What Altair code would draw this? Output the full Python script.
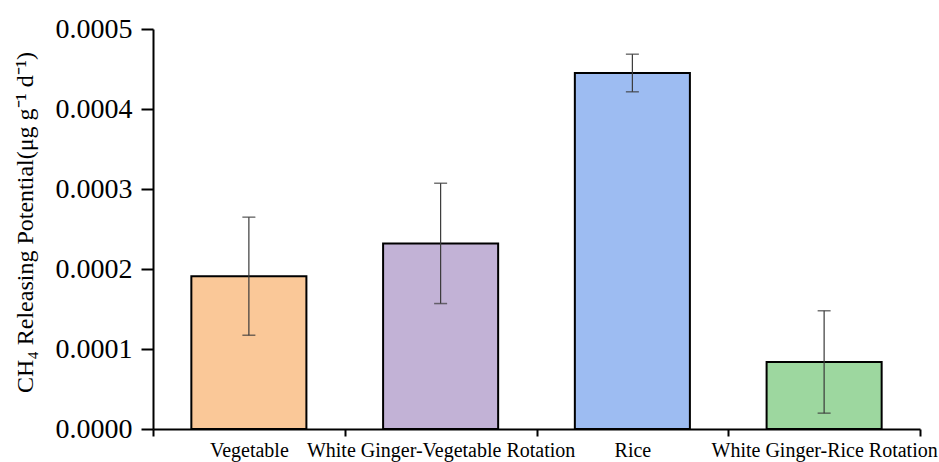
import altair as alt
import pandas as pd

# Treatments, mean CH4 releasing potential and standard deviation
categories = ["Vegetable", "White Ginger-Vegetable Rotation", "Rice", "White Ginger-Rice Rotation"]
means = [0.000191, 0.000232, 0.000445, 0.0000838]
errors = [0.0000738, 0.0000752, 0.0000235, 0.0000640]
colors = ["#FAC898", "#C2B2D6", "#9DBCF2", "#9DD79F"]

df = pd.DataFrame({"cat": categories, "mean": means, "err": errors, "color": colors})

FONT = "Liberation Serif"

x_enc = alt.X(
    "cat:N",
    sort=categories,
    scale=alt.Scale(paddingInner=0, paddingOuter=0),
    axis=alt.Axis(
        title=None,
        labelAngle=0,
        labelFont=FONT,
        labelFontSize=20,
        labelColor="black",
        labelPadding=4,
        labelLimit=0,
        labelOverlap=False,
        labelBound=False,
        tickBand="extent",
        tickSize=7,
        tickWidth=2,
        tickColor="black",
        domainColor="black",
        domainWidth=2,
    ),
)

y_enc = alt.Y(
    "mean:Q",
    scale=alt.Scale(domain=[0, 0.0005], nice=False, zero=True),
    axis=alt.Axis(
        title="CH₄ Releasing Potential(μg g⁻¹  d⁻¹)",
        values=[0, 0.0001, 0.0002, 0.0003, 0.0004, 0.0005],
        format=".4f",
        grid=False,
        labelFont=FONT,
        labelFontSize=28,
        labelColor="black",
        labelPadding=9,
        tickSize=12,
        tickWidth=2,
        tickColor="black",
        domainColor="black",
        domainWidth=2,
        titleFont=FONT,
        titleFontSize=24,
        titleFontWeight="normal",
        titleColor="black",
        titleAngle=-90,
        titleX=-128,
        titleY=193,
        titleAlign="center",
        titleBaseline="middle",
    ),
)

base = alt.Chart(df)

bars = base.mark_bar(
    width=alt.RelativeBandSize(0.6), stroke="black", strokeWidth=2
).encode(
    x=x_enc,
    y=y_enc,
    color=alt.Color("color:N", scale=None, legend=None),
)

ranged = base.transform_calculate(
    lo="datum.mean - datum.err", hi="datum.mean + datum.err"
)

whisker = ranged.mark_rule(color="#3a3a3a", strokeWidth=1.2).encode(
    x=alt.X("cat:N", sort=categories),
    y=alt.Y("lo:Q"),
    y2="hi:Q",
)

cap_lo = ranged.mark_tick(color="#3a3a3a", size=13, thickness=1.5).encode(
    x=alt.X("cat:N", sort=categories), y=alt.Y("lo:Q")
)
cap_hi = ranged.mark_tick(color="#3a3a3a", size=13, thickness=1.5).encode(
    x=alt.X("cat:N", sort=categories), y=alt.Y("hi:Q")
)

chart = (
    alt.layer(bars, whisker, cap_lo, cap_hi)
    .properties(
        width=767,
        height=400,
        autosize=alt.AutoSizeParams(type="none"),
        padding={"left": 153, "top": 29, "right": 19, "bottom": 33},
        background="white",
    )
    .configure(font=FONT)
    .configure_axis(labelFont=FONT, titleFont=FONT)
    .configure_view(stroke=None)
)

chart.save("out.html", embed_options={"renderer": "svg", "actions": False})
